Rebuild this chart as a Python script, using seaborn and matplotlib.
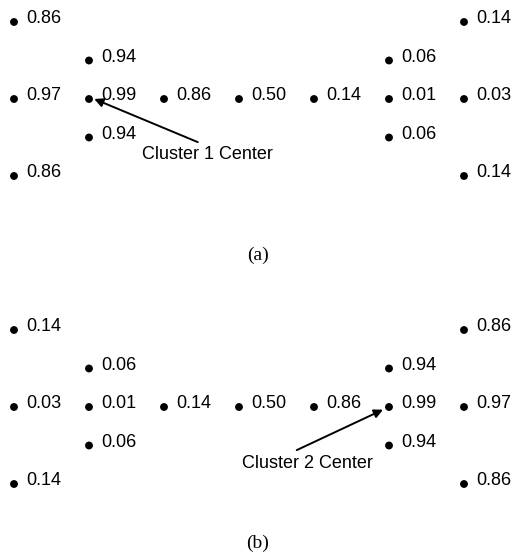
import matplotlib
matplotlib.use("Agg")
import matplotlib.pyplot as plt
import seaborn as sns
import pandas as pd

sns.set_theme(style="white")
plt.rcParams['font.family'] = ['Liberation Sans', 'DejaVu Sans']
plt.rcParams['text.color'] = 'black'

# grid positions (column, row) of the 15 nodes
cols = [0, 0, 0, 1, 1, 1, 2, 3, 4, 5, 5, 5, 6, 6, 6]
rows = [2, 0, -2, 1, 0, -1, 0, 0, 0, 1, 0, -1, 2, 0, -2]

# membership values for each panel
vals_a = [0.86, 0.97, 0.86, 0.94, 0.99, 0.94, 0.86, 0.50, 0.14,
          0.06, 0.01, 0.06, 0.14, 0.03, 0.14]
vals_b = [0.14, 0.03, 0.14, 0.06, 0.01, 0.06, 0.14, 0.50, 0.86,
          0.94, 0.99, 0.94, 0.86, 0.97, 0.86]

panel_labels = ["(a)", "(b)"]
center_labels = ["Cluster 1 Center", "Cluster 2 Center"]
center_cols = [1, 5]

W, H = 517, 554
fig = plt.figure(figsize=(W / 100, H / 100), dpi=100)

px_x = 75.0   # pixels per column
px_y = 38.5   # pixels per row
x0 = 14.0     # pixel of column 0

# (top px, bottom px, centre-row px) of each panel, absolute in the figure
panels = [(0, 277, 99), (277, 554, 407)]
axes = []
for i, ((top, bottom, center), vals) in enumerate(zip(panels, [vals_a, vals_b])):
    ax = fig.add_axes([0, 1 - bottom / H, 1, (bottom - top) / H], label=f"panel{i}")
    df = pd.DataFrame({"col": cols, "row": rows, "val": vals})
    sns.scatterplot(data=df, x="col", y="row", color="black", s=32,
                    edgecolor="none", ax=ax, legend=False)
    for c, r, v in zip(df["col"], df["row"], df["val"]):
        ax.annotate(f"{v:.2f}", (c, r), xytext=(9, 2.5), textcoords="offset points",
                    ha="left", va="center", fontsize=13, color="black")
    ax.set_xlim(-x0 / px_x, (W - x0) / px_x)
    ax.set_ylim((center - bottom) / px_y, (center - top) / px_y)
    ax.set_xlabel("")
    ax.set_ylabel("")
    ax.axis("off")
    axes.append(ax)

arrow = dict(arrowstyle="-|>", color="black", lw=1.4, mutation_scale=13,
             shrinkA=0, shrinkB=0)

axes[0].annotate("", xy=(center_cols[0] + 0.07, 0.0), xytext=(2.45, -1.12),
                 arrowprops=arrow)
axes[0].text(1.71, -1.45, center_labels[0], ha="left", va="center", fontsize=13,
             color="black")
axes[0].text(3.253, -4.05, panel_labels[0], ha="center", va="center", fontsize=14,
             family=["Liberation Serif"], color="black")

axes[1].annotate("", xy=(center_cols[1] - 0.08, -0.07), xytext=(3.77, -1.12),
                 arrowprops=arrow)
axes[1].text(3.04, -1.48, center_labels[1], ha="left", va="center", fontsize=13,
             color="black")
axes[1].text(3.253, -3.53, panel_labels[1], ha="center", va="center", fontsize=14,
             family=["Liberation Serif"], color="black")

fig.savefig("out.png", dpi=100, facecolor="white")
